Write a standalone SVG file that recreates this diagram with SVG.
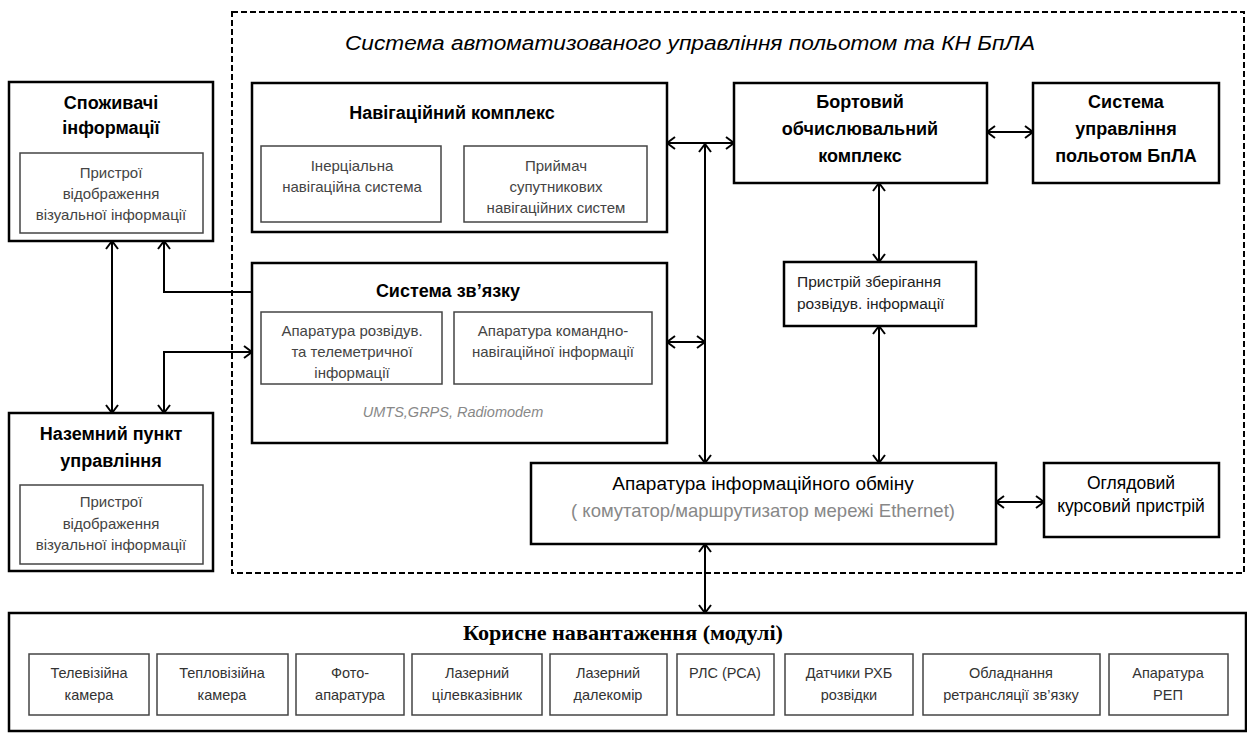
<svg xmlns="http://www.w3.org/2000/svg" width="1247" height="733" viewBox="0 0 1247 733">
<style>
.bg{fill:#fff}
.ob{fill:#fff;stroke:#000;stroke-width:2.5}
.ib{fill:#fff;stroke:#444;stroke-width:1.5}
.t{font-family:"Liberation Sans",Arial,sans-serif;text-anchor:middle;fill:#000}
.b{font-weight:bold;font-size:18px}
.s{font-size:15px;fill:#444}
.p{font-size:14.5px;fill:#333}
.m{font-size:15.5px;fill:#222;text-anchor:start}
.g{fill:#888}
.c{fill:none;stroke:#000;stroke-width:2;marker-start:url(#ah);marker-end:url(#ah)}
.ce{fill:none;stroke:#000;stroke-width:2;marker-end:url(#ah)}
</style>
<defs>
<marker id="ah" viewBox="0 0 10 14" refX="9" refY="7" markerWidth="10" markerHeight="14" markerUnits="userSpaceOnUse" orient="auto-start-reverse">
<path d="M1,1 L9,7 L1,13" fill="none" stroke="#000" stroke-width="2"/>
</marker>
</defs>
<rect class="bg" x="0" y="0" width="1247" height="733"/>

<g id="container">
<rect x="232" y="12" width="1012" height="561" fill="none" stroke="#000" stroke-width="2" stroke-dasharray="6,3"/>
<text class="t" x="690" y="50" font-size="20" font-style="italic" textLength="690" lengthAdjust="spacingAndGlyphs">Система автоматизованого управління польотом та КН БпЛА</text>
</g>

<g id="consumers">
<rect class="ob" x="9" y="82" width="204" height="159"/>
<text class="t b" x="111" y="109">Споживачі</text>
<text class="t b" x="111" y="134">інформації</text>
<rect class="ib" x="20" y="153" width="183" height="80"/>
<text class="t s" x="111" y="178">Пристрої</text>
<text class="t s" x="111" y="199">відображення</text>
<text class="t s" x="111" y="220">візуальної інформації</text>
</g>

<g id="ground">
<rect class="ob" x="9" y="413" width="204" height="158"/>
<text class="t b" x="111" y="440">Наземний пункт</text>
<text class="t b" x="111" y="467">управління</text>
<rect class="ib" x="20" y="485" width="183" height="79"/>
<text class="t s" x="111" y="507">Пристрої</text>
<text class="t s" x="111" y="529">відображення</text>
<text class="t s" x="111" y="550">візуальної інформації</text>
</g>

<g id="nav">
<rect class="ob" x="252" y="83" width="415" height="149"/>
<text class="t b" x="452" y="119">Навігаційний комплекс</text>
<rect class="ib" x="261" y="146" width="180" height="76"/>
<text class="t s" x="352" y="171">Інерціальна</text>
<text class="t s" x="352" y="192">навігаційна система</text>
<rect class="ib" x="464" y="146" width="183" height="76"/>
<text class="t s" x="556" y="171">Приймач</text>
<text class="t s" x="556" y="192">супутникових</text>
<text class="t s" x="556" y="213">навігаційних систем</text>
</g>

<g id="comm">
<rect class="ob" x="252" y="263" width="415" height="180"/>
<text class="t b" x="448" y="297">Система зв’язку</text>
<rect class="ib" x="261" y="312" width="181" height="72"/>
<text class="t s" x="352" y="336">Апаратура розвідув.</text>
<text class="t s" x="352" y="357">та телеметричної</text>
<text class="t s" x="352" y="378">інформації</text>
<rect class="ib" x="454" y="312" width="198" height="72"/>
<text class="t s" x="553" y="336">Апаратура командно-</text>
<text class="t s" x="553" y="357">навігаційної інформації</text>
<text class="t g" x="453" y="417" font-size="14.5" font-style="italic">UMTS,GRPS,  Radiomodem</text>
</g>

<g id="onboard">
<rect class="ob" x="734" y="83" width="253" height="100"/>
<text class="t b" x="860" y="108">Бортовий</text>
<text class="t b" x="860" y="135">обчислювальний</text>
<text class="t b" x="860" y="162">комплекс</text>
</g>

<g id="flightctrl">
<rect class="ob" x="1033" y="83" width="186" height="100"/>
<text class="t b" x="1126" y="108">Система</text>
<text class="t b" x="1126" y="135">управління</text>
<text class="t b" x="1126" y="162">польотом БпЛА</text>
</g>

<g id="storage">
<rect class="ob" x="784" y="262" width="192" height="64"/>
<text class="t m" x="797" y="287">Пристрій зберігання</text>
<text class="t m" x="797" y="309">розвідув. інформації</text>
</g>

<g id="exchange">
<rect class="ob" x="531" y="463" width="465" height="81"/>
<text class="t" x="763" y="490" font-size="19">Апаратура інформаційного обміну</text>
<text class="t g" x="763" y="517" font-size="18.5">( комутатор/маршрутизатор  мережі Ethernet)</text>
</g>

<g id="survey">
<rect class="ob" x="1044" y="463" width="175" height="74"/>
<text class="t" x="1131" y="489" font-size="17.5">Оглядовий</text>
<text class="t" x="1131" y="512" font-size="17.5">курсовий пристрій</text>
</g>

<g id="payload">
<rect class="ob" x="9" y="613" width="1237" height="118"/>
<text x="623" y="640" text-anchor="middle" font-family="'Liberation Serif',serif" font-weight="bold" font-size="21" textLength="320" lengthAdjust="spacingAndGlyphs">Корисне навантаження (модулі)</text>
<rect class="ib" x="29" y="654" width="120" height="61"/>
<text class="t p" x="89" y="678">Телевізійна</text>
<text class="t p" x="89" y="700">камера</text>
<rect class="ib" x="157" y="654" width="131" height="61"/>
<text class="t p" x="222" y="678">Тепловізійна</text>
<text class="t p" x="222" y="700">камера</text>
<rect class="ib" x="296" y="654" width="108" height="61"/>
<text class="t p" x="350" y="678">Фото-</text>
<text class="t p" x="350" y="700">апаратура</text>
<rect class="ib" x="412" y="654" width="130" height="61"/>
<text class="t p" x="477" y="678">Лазерний</text>
<text class="t p" x="477" y="700">цілевказівник</text>
<rect class="ib" x="550" y="654" width="117" height="61"/>
<text class="t p" x="608" y="678">Лазерний</text>
<text class="t p" x="608" y="700">далекомір</text>
<rect class="ib" x="677" y="654" width="97" height="61"/>
<text class="t p" x="725" y="678">РЛС (РСА)</text>
<rect class="ib" x="785" y="654" width="128" height="61"/>
<text class="t p" x="849" y="678">Датчики  РХБ</text>
<text class="t p" x="849" y="700">розвідки</text>
<rect class="ib" x="923" y="654" width="177" height="61"/>
<text class="t p" x="1011" y="678">Обладнання</text>
<text class="t p" x="1011" y="700">ретрансляції зв’язку</text>
<rect class="ib" x="1109" y="654" width="119" height="61"/>
<text class="t p" x="1168" y="678">Апаратура</text>
<text class="t p" x="1168" y="700">РЕП</text>
</g>

<g id="connectors">
<path class="c" d="M667,143 H734"/>
<path class="c" d="M705,144 V463"/>
<path class="c" d="M667,342 H705"/>
<path class="c" d="M987,132 H1033"/>
<path class="c" d="M879,183 V262"/>
<path class="c" d="M879,326 V463"/>
<path class="c" d="M996,502 H1044"/>
<path class="c" d="M705,544 V613"/>
<path class="c" d="M112,241 V413"/>
<path class="ce" d="M252,292 H164 V241"/>
<path class="c" d="M164,413 V352 H252"/>
</g>
</svg>
